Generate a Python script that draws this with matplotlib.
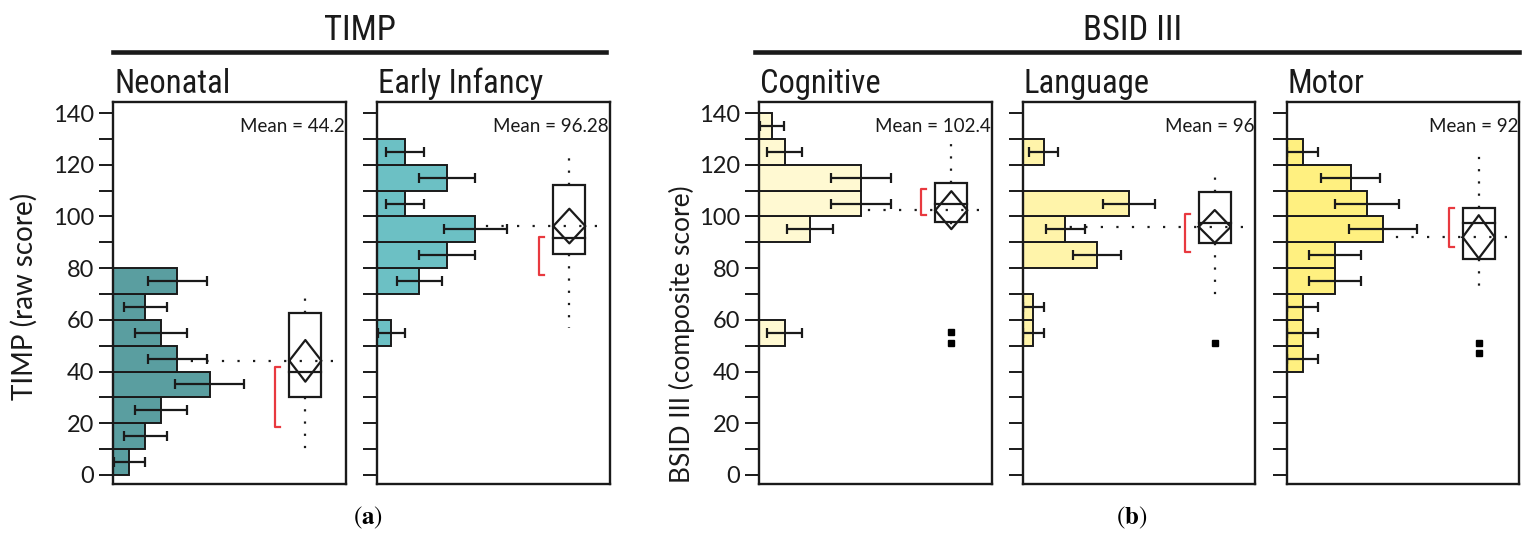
import numpy as np
import matplotlib
matplotlib.use('Agg')
import matplotlib.pyplot as plt
import matplotlib.transforms as mtransforms
from matplotlib import font_manager as fm
from matplotlib.lines import Line2D
from matplotlib.patches import Rectangle

# ---- data ----
panel_names = ['Neonatal', 'Early Infancy', 'Cognitive', 'Language', 'Motor']
bar_colors = ['#5a9ea0', '#6cc0c4', '#fff9d2', '#fff4aa', '#fff080']

neonatal_bins = [0, 10, 20, 30, 40, 50, 60, 70]
neonatal_counts = [1, 2, 3, 6, 4, 3, 2, 4]
neonatal_err = [0.98, 1.36, 1.62, 2.14, 1.83, 1.62, 1.36, 1.83]

early_bins = [50, 70, 80, 90, 100, 110, 120]
early_counts = [1, 3, 5, 7, 2, 5, 2]
early_err = [0.98, 1.62, 2.0, 2.24, 1.36, 2.0, 1.36]

cognitive_bins = [50, 90, 100, 110, 120, 130]
cognitive_counts = [2, 4, 8, 8, 2, 1]
cognitive_err = [1.36, 1.83, 2.33, 2.33, 1.36, 0.98]

language_bins = [50, 60, 80, 90, 100, 120]
language_counts = [1, 1, 7, 4, 10, 2]
language_err = [0.98, 0.98, 2.24, 1.83, 2.45, 1.36]

motor_bins = [40, 50, 60, 70, 80, 90, 100, 110, 120]
motor_counts = [1, 1, 1, 3, 3, 6, 5, 4, 1]
motor_err = [0.98, 0.98, 0.98, 1.62, 1.62, 2.14, 2.0, 1.83, 0.98]

# box plot summaries
means = [44.2, 96.28, 102.4, 96, 92]
q1 = [30, 85.5, 97.7, 89.8, 83.5]
median = [40, 91.8, 105, 97.6, 97.3]
q3 = [62.5, 112, 112.8, 109.3, 103.1]
whisk_lo = [9, 56.7, 93.5, 68.9, 70.9]
whisk_hi = [71.5, 124.8, 129.5, 118.3, 124]
diam_lo = [36.1, 89.6, 95.1, 89.8, 83.8]
diam_hi = [52.2, 103.0, 109.8, 102.5, 100.5]
short_lo = [18.4, 77.3, 100.5, 86.4, 88.3]
short_hi = [41.9, 92.2, 110.5, 100.8, 103.1]
outliers = [[], [], [51, 55.5], [51], [47, 51]]

bins_all = [neonatal_bins, early_bins, cognitive_bins, language_bins, motor_bins]
counts_all = [neonatal_counts, early_counts, cognitive_counts, language_counts, motor_counts]
err_all = [neonatal_err, early_err, cognitive_err, language_err, motor_err]
count_max = [14.5, 16.6, 18.3, 21.9, 14.5]


def pick(*names):
    for n in names:
        try:
            fm.findfont(fm.FontProperties(family=n), fallback_to_default=False)
            return n
        except ValueError:
            pass
    return 'DejaVu Sans'


head_font = pick('Liberation Sans Narrow', 'Roboto Condensed', 'DejaVu Sans')
body_font = pick('Lato', 'Open Sans', 'DejaVu Sans')
plt.rcParams['font.family'] = body_font
plt.rcParams['mathtext.fontset'] = 'stix'

W, H = 1530, 539
fig = plt.figure(figsize=(W / 100, H / 100), dpi=100)

lefts = [113.3, 377.3, 759.3, 1022.7, 1286.7]
ink = '#1a1a1a'
box_c, box_w = 0.826, 0.138

for i, ax_left in enumerate(lefts):
    ax = fig.add_axes([ax_left / W, 55 / H, 232.5 / W, 382 / H])
    b = np.array(bins_all[i]) + 5
    c = np.array(counts_all[i])
    e = np.array(err_all[i])
    ax.barh(b, c, height=10, color=bar_colors[i], edgecolor=ink, linewidth=1.4, zorder=2)
    ax.errorbar(c, b, xerr=[np.minimum(e, c), e], fmt='none', ecolor=ink,
                elinewidth=1.6, capsize=3.5, capthick=1.6, zorder=3)

    trans = mtransforms.blended_transform_factory(ax.transAxes, ax.transData)
    m = means[i]
    # mean reference line
    ax.plot([0, 1], [m, m], transform=trans, color=ink, lw=1.6, ls=(0, (1, 6)), zorder=1)
    # box
    ax.add_patch(Rectangle((box_c - box_w / 2, q1[i]), box_w, q3[i] - q1[i], transform=trans,
                           fill=False, edgecolor=ink, lw=1.6, zorder=4))
    ax.plot([box_c - box_w / 2, box_c + box_w / 2], [median[i]] * 2, transform=trans,
            color=ink, lw=1.6, zorder=4)
    ax.plot([box_c - box_w / 2, box_c, box_c + box_w / 2, box_c, box_c - box_w / 2],
            [m, diam_hi[i], m, diam_lo[i], m], transform=trans, color=ink, lw=1.6, zorder=4)
    # whiskers
    ax.plot([box_c, box_c], [q3[i], whisk_hi[i]], transform=trans, color=ink, lw=1.6,
            ls=(0, (1, 4.5)), zorder=4)
    ax.plot([box_c, box_c], [q1[i], whisk_lo[i]], transform=trans, color=ink, lw=1.6,
            ls=(0, (1, 4.5)), zorder=4)
    if outliers[i]:
        ax.plot([box_c] * len(outliers[i]), outliers[i], 's', ms=4.5, color='k',
                transform=trans, zorder=5)
    # shortest half bracket
    ax.plot([0.718, 0.697, 0.697, 0.718], [short_hi[i], short_hi[i], short_lo[i], short_lo[i]],
            transform=trans, color='#e8393f', lw=1.6, zorder=4)

    ax.text(0.995, 0.935, f'Mean = {m:g}', transform=ax.transAxes, ha='right', va='center',
            fontsize=13.5, color=ink)

    ax.set_xlim(0, count_max[i])
    ax.set_ylim(-3.5, 144.3)
    ax.set_xticks([])
    ticks = np.arange(0, 141, 10)
    ax.set_yticks(ticks)
    if i in (0, 2):
        ax.set_yticklabels([str(t) if t % 20 == 0 else '' for t in ticks])
    else:
        ax.set_yticklabels([])
    ax.tick_params(axis='y', direction='out', length=10, width=1.4, labelsize=17, pad=4,
                   color=ink, labelcolor=ink)
    for s in ax.spines.values():
        s.set_linewidth(1.7)
        s.set_color(ink)

    fig.text((ax_left + 1) / W, 1 - 93 / H, panel_names[i], ha='left', va='baseline',
             fontsize=23.5, family=head_font, color=ink)

# group headers
fig.text(360 / W, 1 - 30 / H, 'TIMP', ha='center', va='center', fontsize=25,
         family=head_font, color=ink)
fig.add_artist(Line2D([113 / W, 606 / W], [1 - 52 / H] * 2, lw=3.3, color=ink))
fig.text(1133 / W, 1 - 30 / H, 'BSID III', ha='center', va='center', fontsize=25,
         family=head_font, color=ink)
fig.add_artist(Line2D([755 / W, 1519 / W], [1 - 52 / H] * 2, lw=3.3, color=ink))

fig.text(24 / W, 1 - 296 / H, 'TIMP (raw score)', rotation=90, ha='center', va='center',
         fontsize=20, color=ink)
fig.text(682 / W, 1 - 334 / H, 'BSID III (composite score)', rotation=90, ha='center',
         va='center', fontsize=19, color=ink)

fig.text(368 / W, 1 - 518 / H, r'$(\mathbf{a})$', ha='center', va='center', fontsize=18)
fig.text(1132 / W, 1 - 518 / H, r'$(\mathbf{b})$', ha='center', va='center', fontsize=18)

fig.savefig('out.png', dpi=100)
